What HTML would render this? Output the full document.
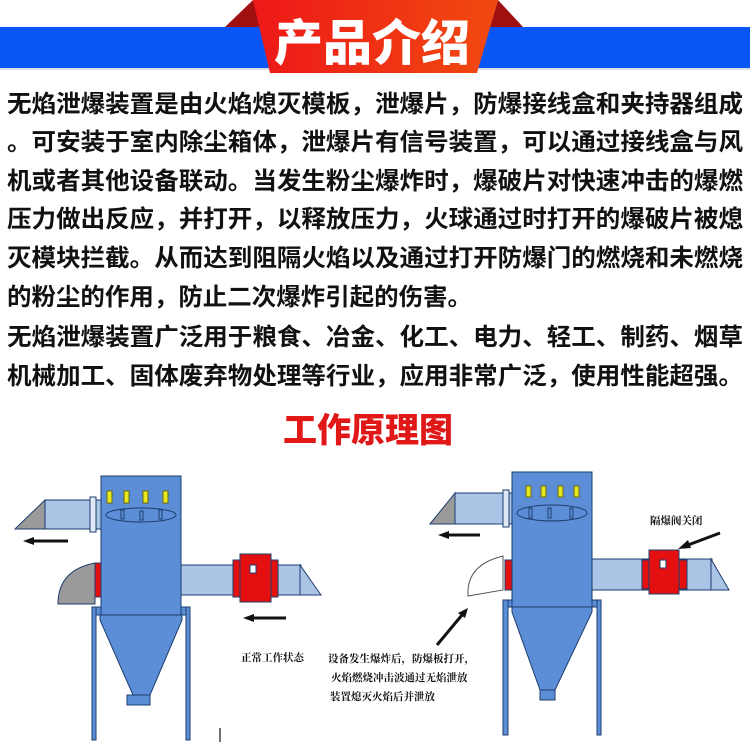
<!DOCTYPE html>
<html><head><meta charset="utf-8"><style>
html,body{margin:0;padding:0;background:#fff;width:750px;height:750px;overflow:hidden}
svg{display:block}
.p{font-family:"Liberation Sans","Noto Sans CJK SC",sans-serif;font-weight:bold;font-size:24px;fill:#111}
.s{font-family:"Liberation Serif","Noto Serif CJK SC",serif;font-weight:bold;font-size:10.5px;fill:#111}
</style></head><body>
<svg width="750" height="750" viewBox="0 0 750 750">
<!-- header -->
<rect x="0" y="27" width="750" height="41" fill="#0a55f5"/>
<rect x="0" y="68" width="750" height="2" fill="#d9dde8"/>
<polygon points="225,27 253,0 262,27" fill="#a01010"/>
<polygon points="498,0 523,27 490,27" fill="#a01010"/>
<defs><linearGradient id="g" x1="0" x2="1"><stop offset="0" stop-color="#ee1818"/><stop offset="1" stop-color="#f04a10"/></linearGradient></defs>
<polygon points="253,0 498,0 477,73 270,73" fill="url(#g)"/>
<text x="372" y="60" text-anchor="middle" font-family="'Noto Sans CJK SC',sans-serif" font-weight="900" font-size="49" fill="#fff">产品介绍</text>
<!-- paragraph -->
<g class="p">
<text x="7" y="112" textLength="736" lengthAdjust="spacingAndGlyphs">无焰泄爆装置是由火焰熄灭模板，泄爆片，防爆接线盒和夹持器组成</text>
<text x="7" y="150" textLength="736" lengthAdjust="spacingAndGlyphs">。可安装于室内除尘箱体，泄爆片有信号装置，可以通过接线盒与风</text>
<text x="7" y="189" textLength="736" lengthAdjust="spacingAndGlyphs">机或者其他设备联动。当发生粉尘爆炸时，爆破片对快速冲击的爆燃</text>
<text x="7" y="227" textLength="736" lengthAdjust="spacingAndGlyphs">压力做出反应，并打开，以释放压力，火球通过时打开的爆破片被熄</text>
<text x="7" y="266" textLength="736" lengthAdjust="spacingAndGlyphs">灭模块拦截。从而达到阻隔火焰以及通过打开防爆门的燃烧和未燃烧</text>
<text x="7" y="305" textLength="465" lengthAdjust="spacingAndGlyphs">的粉尘的作用，防止二次爆炸引起的伤害。</text>
<text x="7" y="345" textLength="736" lengthAdjust="spacingAndGlyphs">无焰泄爆装置广泛用于粮食、冶金、化工、电力、轻工、制药、烟草</text>
<text x="7" y="384" textLength="736" lengthAdjust="spacingAndGlyphs">机械加工、固体废弃物处理等行业，应用非常广泛，使用性能超强。</text>
</g>
<text x="368" y="442" text-anchor="middle" font-family="'Noto Sans CJK SC',sans-serif" font-weight="900" font-size="34" fill="#e01818">工作原理图</text>

<!-- LEFT diagram -->
<g stroke="#1c3d6e" stroke-width="1">
<polygon points="15,529 45,500 45,529" fill="#9a9a9a"/>
<rect x="45" y="500" width="56" height="29" fill="#a9c4e4"/>
<rect x="90" y="497" width="6" height="35" fill="#dfe8f4"/>
<path d="M58,604 Q58,570 95,563 L95,604 Z" fill="#9a9a9a"/>
<rect x="95" y="563" width="7" height="34" fill="#e41010"/>
<rect x="181" y="565" width="120" height="30" fill="#a9c4e4"/>
<polygon points="300,565 321,595 300,595" fill="#a9c4e4"/>
<rect x="233" y="560" width="45" height="37" fill="#e41010"/>
<rect x="240" y="554" width="31" height="48" fill="#e41010"/>
<rect x="250" y="565" width="6" height="8" fill="#fff"/>
<rect x="92" y="607" width="98" height="8" fill="#5b8ed6"/>
<rect x="92" y="607" width="4" height="133" fill="#5b8ed6"/>
<rect x="186" y="607" width="4" height="133" fill="#5b8ed6"/>
<rect x="101" y="476" width="80" height="139" fill="#5b8ed6"/>
<polygon points="100,615 182,615 182,620 150,695 133,695 100,620" fill="#5b8ed6"/>
<rect x="127" y="695" width="23" height="10" fill="#5b8ed6"/>
<ellipse cx="141" cy="515" rx="35" ry="7" fill="#5b8ed6"/>
<rect x="121" y="510" width="3" height="9" fill="#5b8ed6"/>
<rect x="140" y="511" width="3" height="9" fill="#5b8ed6"/>
<rect x="159" y="510" width="3" height="9" fill="#5b8ed6"/>
<g fill="#e8e820" stroke="#6a6a10"><rect x="107" y="491" width="5" height="12"/><rect x="124" y="491" width="5" height="12"/><rect x="143" y="491" width="5" height="12"/><rect x="163" y="491" width="5" height="12"/></g>
</g>
<g stroke="#111" stroke-width="3"><line x1="32" y1="541" x2="68" y2="541"/><line x1="252" y1="618" x2="286" y2="618"/></g>
<polygon points="23,541 34,537 34,545" fill="#111"/>
<polygon points="243,618 254,614 254,622" fill="#111"/>
<text class="s" x="241" y="661">正常工作状态</text>
<line x1="220" y1="728" x2="220" y2="742" stroke="#111" stroke-width="1.2"/>

<!-- RIGHT diagram -->
<g stroke="#1c3d6e" stroke-width="1">
<polygon points="430,524 455,493 455,524" fill="#9a9a9a"/>
<rect x="455" y="493" width="57" height="31" fill="#a9c4e4"/>
<rect x="503" y="490" width="6" height="37" fill="#dfe8f4"/>
<path d="M468,596 Q466,565 503,556 L503,590 Z" fill="#fff" stroke="#555"/>
<rect x="505" y="560" width="8" height="30" fill="#e41010"/>
<rect x="592" y="559" width="120" height="31" fill="#a9c4e4"/>
<polygon points="711,559 729,590 711,590" fill="#a9c4e4"/>
<rect x="642" y="560" width="45" height="29" fill="#e41010"/>
<rect x="649" y="550" width="30" height="44" fill="#e41010"/>
<rect x="660" y="560" width="6" height="8" fill="#fff"/>
<rect x="503" y="600" width="98" height="7" fill="#5b8ed6"/>
<rect x="503" y="600" width="5" height="135" fill="#5b8ed6"/>
<rect x="597" y="600" width="4" height="135" fill="#5b8ed6"/>
<rect x="512" y="472" width="80" height="135" fill="#5b8ed6"/>
<polygon points="512,607 592,607 592,612 555,690 540,690 512,612" fill="#5b8ed6"/>
<rect x="540" y="690" width="15" height="10" fill="#5b8ed6"/>
<ellipse cx="552" cy="513" rx="35" ry="8" fill="#5b8ed6"/>
<rect x="529" y="508" width="3" height="10" fill="#5b8ed6"/>
<rect x="548" y="508" width="3" height="10" fill="#5b8ed6"/>
<rect x="570" y="508" width="3" height="10" fill="#5b8ed6"/>
<g fill="#e8e820" stroke="#6a6a10"><rect x="526" y="486" width="5" height="11"/><rect x="541" y="486" width="5" height="11"/><rect x="558" y="486" width="5" height="11"/><rect x="574" y="486" width="5" height="11"/></g>
</g>
<g stroke="#111" stroke-width="3"><line x1="447" y1="535" x2="480" y2="535"/><line x1="720" y1="533" x2="688" y2="545"/><line x1="437" y1="645" x2="462" y2="615"/></g>
<polygon points="438,535 449,531 449,539" fill="#111"/>
<polygon points="678,549 688,540 691,548" fill="#111"/>
<polygon points="468,608 458,613 465,618" fill="#111"/>
<text class="s" x="650" y="524">隔爆阀关闭</text>
<text class="s" x="328" y="662">设备发生爆炸后，防爆板打开，</text>
<text class="s" x="331" y="681">火焰燃烧冲击波通过无焰泄放</text>
<text class="s" x="330" y="700">装置熄灭火焰后并泄放</text>
</svg>
</body></html>
